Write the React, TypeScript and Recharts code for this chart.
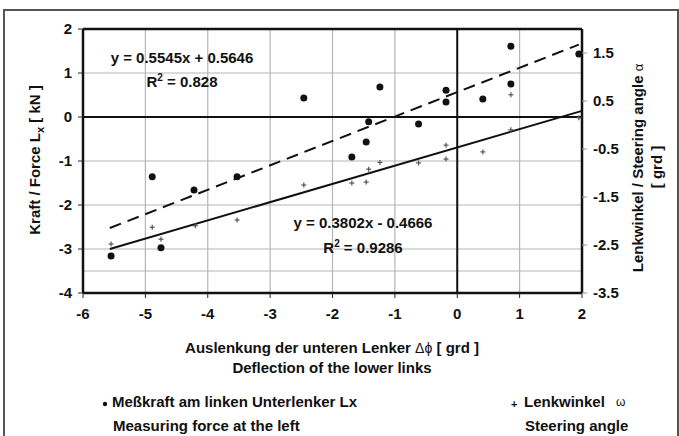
import React from "react";
import {
  ScatterChart,
  Scatter,
  XAxis,
  YAxis,
  CartesianGrid,
  ReferenceLine,
} from "recharts";

// Measured force on left lower link (left axis, kN)
const forceX = [-5.55, -4.89, -4.75, -4.22, -3.53, -2.46, -1.69, -1.46, -1.42, -1.24, -0.62, -0.18, -0.18, 0.41, 0.86, 0.86, 1.95];
const forceY = [-3.16, -1.36, -2.97, -1.66, -1.36, 0.43, -0.91, -0.57, -0.11, 0.68, -0.16, 0.61, 0.34, 0.41, 1.61, 0.75, 1.43];

// Steering angle (right axis, grd)
const angleX = [-5.55, -4.89, -4.75, -4.2, -3.53, -2.46, -1.69, -1.46, -1.42, -1.24, -0.62, -0.18, -0.18, 0.41, 0.86, 0.86, 1.95];
const angleY = [-2.48, -2.13, -2.38, -2.1, -1.98, -1.25, -1.21, -1.19, -0.92, -0.78, -0.79, -0.71, -0.42, -0.56, 0.63, -0.1, 0.15];

// Trend lines as printed on the chart
const forceFit = { slope: 0.5545, intercept: 0.5646, from: -5.57, to: 1.95 };
const angleFit = { slope: 0.3802, intercept: -0.4666, from: -5.57, to: 2.0 };

const xTicks = [-6, -5, -4, -3, -2, -1, 0, 1, 2];
const leftTicks = [-4, -3, -2, -1, 0, 1, 2];
const rightTicks = [-3.5, -2.5, -1.5, -0.5, 0.5, 1.5];

const forceData = forceX.map((x, i) => ({ x, y: forceY[i] }));
const angleData = angleX.map((x, i) => ({ x, y: angleY[i] }));

const seg = (f: { slope: number; intercept: number; from: number; to: number }) => [
  { x: f.from, y: f.slope * f.from + f.intercept },
  { x: f.to, y: f.slope * f.to + f.intercept },
];

const FONT = "'Liberation Sans', Arial, sans-serif";
const tickStyle = { fontFamily: FONT, fontSize: 15, fontWeight: 700, fill: "#111" };

const Dot = (p: any) => <circle cx={p.cx} cy={p.cy} r={3.5} fill="#111" />;
const Plus = (p: any) => (
  <g stroke="#555" strokeWidth={1.2}>
    <line x1={p.cx - 2.5} y1={p.cy} x2={p.cx + 2.5} y2={p.cy} />
    <line x1={p.cx} y1={p.cy - 2.5} x2={p.cx} y2={p.cy + 2.5} />
  </g>
);

export default function App() {
  return (
    <div
      style={{
        position: "absolute",
        left: 0,
        top: 0,
        width: 679,
        height: 436,
        overflow: "hidden",
        background: "#fff",
      }}
    >
      <div
        style={{
          position: "absolute",
          left: 3,
          top: 9,
          width: 672,
          height: 460,
          border: "2px solid #555",
        }}
      />
      <div style={{ position: "absolute", left: 0, top: 0 }}>
        <ScatterChart
          width={679}
          height={436}
          margin={{ top: 29, right: 0, bottom: 113, left: 0 }}
        >
          <CartesianGrid
            yAxisId="left"
            stroke="#b5b5b5"
            strokeWidth={1.2}
          />
          <XAxis
            type="number"
            dataKey="x"
            domain={[-6, 2]}
            ticks={xTicks}
            height={30}
            axisLine={false}
            tickSize={5}
            tickMargin={10}
            tickLine={{ stroke: "#222" }}
            tick={tickStyle}
            interval={0}
          />
          <YAxis
            yAxisId="left"
            type="number"
            dataKey="y"
            domain={[-4, 2]}
            ticks={leftTicks}
            width={83}
            axisLine={false}
            tickSize={5}
            tickMargin={6}
            tickLine={{ stroke: "#222" }}
            tick={tickStyle}
            interval={0}
          />
          <YAxis
            yAxisId="right"
            orientation="right"
            type="number"
            dataKey="y"
            domain={[-3.5, 2]}
            ticks={rightTicks}
            width={97}
            axisLine={false}
            tickSize={5}
            tickMargin={6}
            tickLine={{ stroke: "#999" }}
            tick={tickStyle}
            interval={0}
          />
          <ReferenceLine yAxisId="left" y={-3.5} stroke="#b5b5b5" strokeWidth={1.2} />
          <ReferenceLine yAxisId="left" y={0} stroke="#111" strokeWidth={2} />
          <ReferenceLine yAxisId="left" x={0} stroke="#111" strokeWidth={2} />
          <ReferenceLine yAxisId="left" y={2} stroke="#111" strokeWidth={2.5} />
          <ReferenceLine yAxisId="left" y={-4} stroke="#111" strokeWidth={2.5} />
          <ReferenceLine yAxisId="left" x={-6} stroke="#111" strokeWidth={2.5} />
          <ReferenceLine yAxisId="left" x={2} stroke="#111" strokeWidth={2.5} />
          <ReferenceLine
            yAxisId="left"
            segment={seg(forceFit)}
            stroke="#111"
            strokeWidth={2}
            strokeDasharray="12 7"
            ifOverflow="visible"
          />
          <ReferenceLine
            yAxisId="right"
            segment={seg(angleFit)}
            stroke="#111"
            strokeWidth={2}
            ifOverflow="visible"
          />
          <Scatter
            yAxisId="right"
            data={angleData}
            dataKey="y"
            shape={Plus}
            isAnimationActive={false}
          />
          <Scatter
            yAxisId="left"
            data={forceData}
            dataKey="y"
            shape={Dot}
            isAnimationActive={false}
          />
        </ScatterChart>
      </div>
      <svg
        width={679}
        height={436}
        style={{ position: "absolute", left: 0, top: 0, pointerEvents: "none" }}
        fontFamily={FONT}
        fontWeight={700}
        fontSize={15}
        fill="#111"
      >
        <text x={182} y={63} textAnchor="middle">y = 0.5545x + 0.5646</text>
        <text x={182} y={87} textAnchor="middle">
          R<tspan fontSize={10} dy={-6}>2</tspan>
          <tspan dy={6}> = 0.828</tspan>
        </text>
        <text x={363} y={228} textAnchor="middle">y = 0.3802x - 0.4666</text>
        <text x={363} y={253} textAnchor="middle">
          R<tspan fontSize={10} dy={-6}>2</tspan>
          <tspan dy={6}> = 0.9286</tspan>
        </text>

        <text transform="translate(40,160) rotate(-90)" textAnchor="middle">
          Kraft / Force L<tspan fontSize={11} dy={4}>x</tspan>
          <tspan dy={-4}> [ kN ]</tspan>
        </text>
        <text transform="translate(643,168) rotate(-90)" textAnchor="middle">
          Lenkwinkel / Steering angle <tspan fontWeight={400} fontSize={13}>α</tspan>
        </text>
        <text transform="translate(662,167) rotate(-90)" textAnchor="middle">
          [ grd ]
        </text>

        <text x={332} y={353} textAnchor="middle">
          Auslenkung der unteren Lenker <tspan fontWeight={400} fontSize={14}>Δϕ</tspan> [ grd ]
        </text>
        <text x={332} y={373} textAnchor="middle">Deflection of the lower links</text>

        <circle cx={105} cy={404} r={2.2} fill="#111" />
        <text x={112} y={407}>Meßkraft am linken Unterlenker Lx</text>
        <text x={113} y={431}>Measuring force at the left</text>
        <text x={511} y={408} fontSize={11}>+</text>
        <text x={524} y={407}>Lenkwinkel</text>
        <text x={616} y={406} fontWeight={400} fontSize={12}>ω</text>
        <text x={525} y={431}>Steering angle</text>
      </svg>
    </div>
  );
}
